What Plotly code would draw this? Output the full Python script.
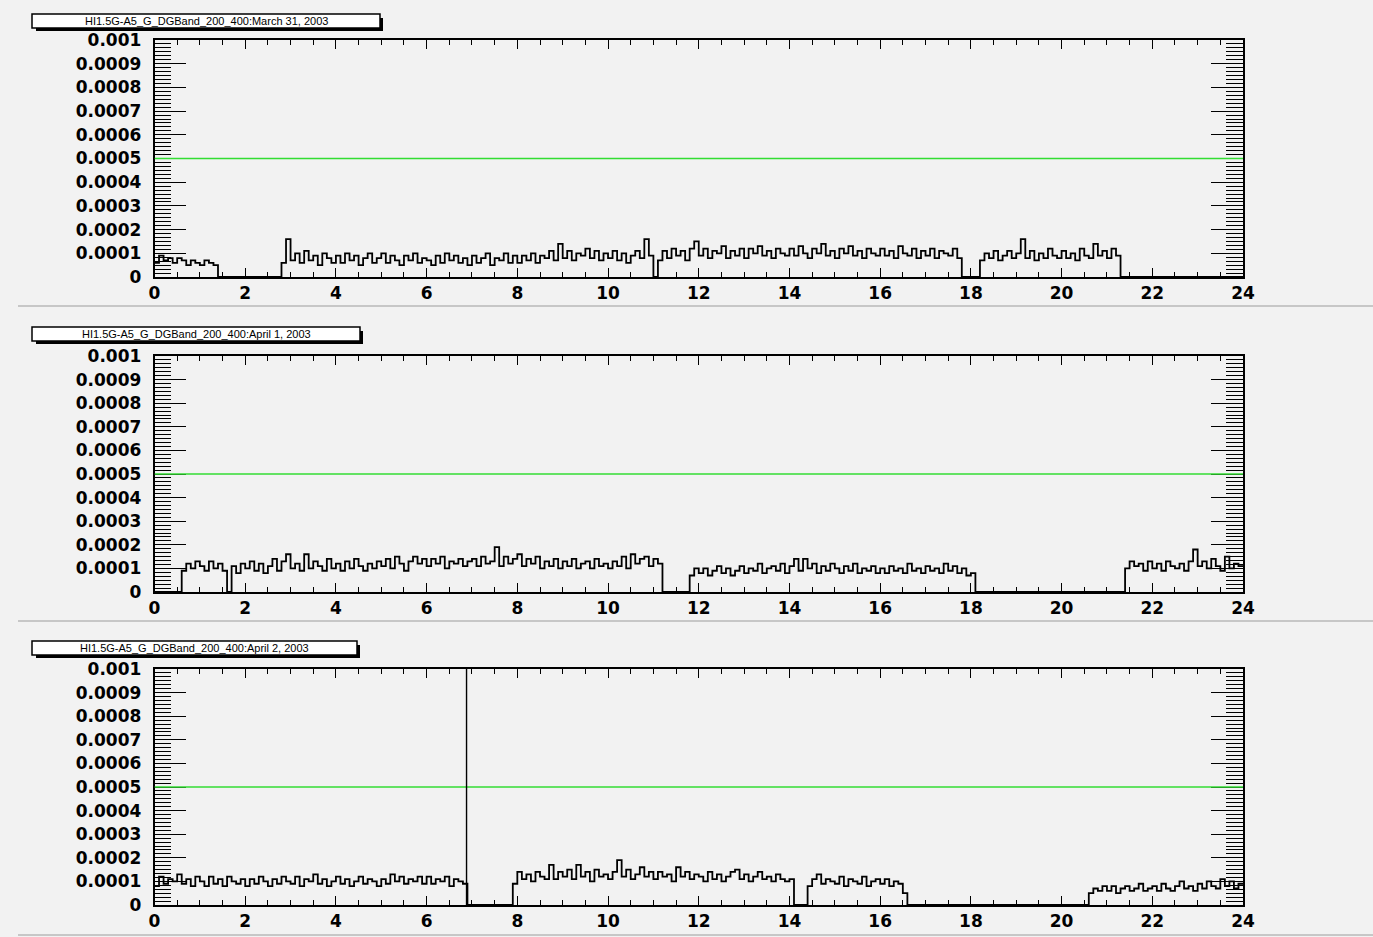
import numpy as np
import plotly.graph_objects as go

# ---------------- data (values in units of 1e-5, 0.1 h bins) ----------------
BIN_WIDTH_H = 0.1
VALUE_UNIT = 1e-5

hour_ticks = [0, 2, 4, 6, 8, 10, 12, 14, 16, 18, 20, 22, 24]
hour_tick_labels = ["0", "2", "4", "6", "8", "10", "12", "14", "16", "18", "20", "22", "24"]
y_tick_values = [0, 0.0001, 0.0002, 0.0003, 0.0004, 0.0005, 0.0006, 0.0007, 0.0008, 0.0009, 0.001]
y_tick_labels = ["0", "0.0001", "0.0002", "0.0003", "0.0004", "0.0005", "0.0006",
                 "0.0007", "0.0008", "0.0009", "0.001"]
threshold = 0.0005

panel_titles = [
    "HI1.5G-A5_G_DGBand_200_400:March 31, 2003",
    "HI1.5G-A5_G_DGBand_200_400:April 1, 2003",
    "HI1.5G-A5_G_DGBand_200_400:April 2, 2003",
]

mar31 = [
    6, 9, 7, 8, 6, 8, 7, 5, 7, 6,
    5, 7, 6, 5, 0, 0, 0, 0, 0, 0,
    0, 0, 0, 0, 0, 0, 0, 0, 6, 16,
    7, 10, 6, 11, 7, 9, 5, 10, 8, 6,
    9, 6, 10, 7, 9, 5, 8, 10, 6, 8,
    10, 6, 9, 7, 5, 9, 7, 10, 6, 8,
    7, 5, 9, 6, 10, 7, 9, 6, 8, 5,
    9, 6, 8, 10, 5, 8, 7, 10, 6, 9,
    6, 9, 7, 10, 6, 9, 8, 11, 7, 14,
    8, 11, 7, 10, 9, 12, 8, 11, 7, 10,
    8, 11, 7, 10, 6, 9, 11, 8, 16, 9,
    0, 7, 11, 8, 12, 9, 11, 7, 12, 15,
    9, 12, 8, 11, 10, 13, 8, 11, 9, 12,
    8, 12, 10, 13, 9, 11, 8, 12, 10, 9,
    12, 9, 13, 10, 8, 12, 10, 14, 9, 11,
    8, 12, 10, 13, 9, 11, 8, 12, 10, 9,
    12, 9, 11, 8, 13, 10, 9, 12, 8, 11,
    9, 12, 8, 11, 10, 9, 12, 8, 0, 0,
    0, 0, 7, 10, 8, 11, 7, 9, 11, 8,
    10, 16, 8, 11, 7, 10, 8, 12, 9, 8,
    11, 8, 10, 7, 12, 9, 8, 14, 9, 11,
    8, 12, 9, 0, 0, 0, 0, 0, 0, 0,
    0, 0, 0, 0, 0, 0, 0, 0, 0, 0,
    0, 0, 0, 0, 0, 0, 0, 0, 0, 0,
]

apr1 = [
    0, 0, 0, 0, 0, 0, 9, 12, 10, 13,
    11, 9, 13, 10, 12, 9, 0, 11, 8, 12,
    10, 13, 9, 12, 8, 11, 14, 9, 13, 16,
    10, 12, 9, 16, 10, 13, 11, 9, 14, 10,
    12, 9, 13, 10, 14, 11, 9, 12, 10, 13,
    11, 14, 10, 15, 12, 9, 13, 15, 12, 14,
    11, 14, 12, 15, 10, 13, 12, 14, 11, 13,
    14, 11, 15, 12, 13, 19, 11, 15, 12, 14,
    16, 11, 14, 12, 15, 10, 13, 11, 14, 10,
    13, 11, 14, 10, 12, 13, 10, 14, 11, 12,
    10, 13, 11, 15, 10, 16, 12, 14, 15, 11,
    14, 12, 0, 0, 0, 0, 0, 0, 7, 10,
    8, 10, 7, 9, 11, 8, 10, 7, 9, 11,
    8, 10, 9, 12, 8, 10, 11, 9, 12, 8,
    11, 14, 9, 14, 10, 12, 8, 11, 9, 12,
    10, 8, 11, 9, 12, 8, 10, 9, 11, 8,
    10, 8, 11, 9, 10, 8, 12, 9, 10, 8,
    11, 9, 10, 8, 12, 9, 11, 8, 10, 7,
    8, 0, 0, 0, 0, 0, 0, 0, 0, 0,
    0, 0, 0, 0, 0, 0, 0, 0, 0, 0,
    0, 0, 0, 0, 0, 0, 0, 0, 0, 0,
    0, 0, 0, 0, 10, 13, 11, 12, 9, 13,
    10, 12, 9, 13, 11, 10, 12, 9, 13, 18,
    11, 13, 10, 14, 11, 9, 15, 10, 12, 11,
]

apr2 = [
    8, 12, 9, 11, 10, 13, 9, 11, 8, 12,
    10, 8, 12, 9, 11, 8, 12, 10, 9, 11,
    8, 11, 9, 12, 10, 8, 11, 9, 12, 10,
    9, 12, 8, 11, 10, 13, 9, 11, 8, 10,
    12, 9, 11, 8, 10, 12, 9, 11, 10, 8,
    11, 9, 13, 10, 12, 9, 11, 10, 12, 9,
    12, 9, 11, 10, 12, 8, 11, 10, 9, 0,
    0, 0, 0, 0, 0, 0, 0, 0, 0, 9,
    14, 11, 13, 10, 14, 12, 11, 17, 11, 14,
    12, 15, 11, 17, 12, 14, 10, 15, 12, 13,
    11, 14, 19, 12, 15, 11, 13, 16, 12, 14,
    11, 14, 12, 13, 10, 16, 12, 14, 11, 13,
    12, 10, 14, 11, 13, 10, 12, 14, 15, 11,
    13, 10, 12, 14, 11, 12, 10, 13, 11, 10,
    11, 0, 0, 0, 8, 11, 13, 9, 11, 10,
    9, 12, 8, 11, 10, 9, 12, 8, 10, 11,
    9, 11, 8, 10, 9, 5, 0, 0, 0, 0,
    0, 0, 0, 0, 0, 0, 0, 0, 0, 0,
    0, 0, 0, 0, 0, 0, 0, 0, 0, 0,
    0, 0, 0, 0, 0, 0, 0, 0, 0, 0,
    0, 0, 0, 0, 0, 0, 5, 7, 6, 8,
    6, 8, 5, 7, 8, 6, 7, 9, 6, 7,
    8, 6, 9, 7, 6, 8, 10, 7, 8, 6,
    9, 7, 10, 8, 7, 11, 8, 10, 7, 9,
]

apr2_spike_hour = [6.88]
apr2_spike_value = [120]

# ---------------- layout geometry (pixels) ----------------
W, H = 1373, 937
PLOT_X = (154.5, 1243)
PANEL_Y = [(40, 277), (356, 592), (669, 905)]
TITLE_BOX = [(32, 14, 380, 28), (32, 327, 360, 341), (32, 641, 357, 655)]
SEPARATOR_Y = [306, 621, 935]
BG = "#f2f2f2"
TICK_FONT = dict(family="DejaVu Sans", size=17, color="black", weight="bold")


def px(x):
    return x / W


def py(y):
    return 1 - y / H


fig = go.Figure()
series = [mar31, apr1, apr2]

for i, vals in enumerate(series):
    n = i + 1
    xa = "x" if n == 1 else f"x{n}"
    ya = "y" if n == 1 else f"y{n}"
    edges = np.arange(len(vals) + 1) * BIN_WIDTH_H
    yv = np.array(vals + [vals[-1]], dtype=float) * VALUE_UNIT
    fig.add_trace(go.Scatter(x=[0, 24], y=[threshold, threshold], mode="lines",
                             line=dict(color="#33dd33", width=1.6), xaxis=xa, yaxis=ya,
                             hoverinfo="skip", showlegend=False))
    fig.add_trace(go.Scatter(x=edges, y=yv, mode="lines", line_shape="hv",
                             line=dict(color="black", width=1.8), xaxis=xa, yaxis=ya,
                             showlegend=False))
    if n == 3:
        for h, v in zip(apr2_spike_hour, apr2_spike_value):
            fig.add_trace(go.Scatter(x=[h, h], y=[0, v * VALUE_UNIT], mode="lines",
                                     line=dict(color="black", width=1.4), xaxis=xa, yaxis=ya,
                                     showlegend=False))

layout = dict(width=W, height=H, margin=dict(l=0, r=0, t=0, b=0, pad=0),
              paper_bgcolor=BG, plot_bgcolor=BG, showlegend=False)

for i in range(3):
    n = i + 1
    xk = "xaxis" if n == 1 else f"xaxis{n}"
    yk = "yaxis" if n == 1 else f"yaxis{n}"
    ya = "y" if n == 1 else f"y{n}"
    xa = "x" if n == 1 else f"x{n}"
    y_top, y_bot = PANEL_Y[i]
    layout[xk] = dict(domain=[px(PLOT_X[0]), px(PLOT_X[1])], anchor=ya, range=[0, 24],
                      tickmode="array", tickvals=hour_ticks, ticktext=hour_tick_labels,
                      ticks="inside", ticklen=9, tickwidth=1, tickcolor="black",
                      minor=dict(tickmode="linear", tick0=0, dtick=0.5, ticklen=5,
                                 ticks="inside", tickcolor="black", tickwidth=1,
                                 showgrid=False),
                      showline=True, linecolor="black", linewidth=1.5, mirror="allticks",
                      showgrid=False, zeroline=False, tickfont=TICK_FONT,
                      ticklabelstandoff=0, automargin=False)
    layout[yk] = dict(domain=[py(y_bot), py(y_top)], anchor=xa, range=[0, 0.001],
                      tickmode="array", tickvals=y_tick_values, ticktext=y_tick_labels,
                      ticks="inside", ticklen=32, tickwidth=1, tickcolor="black",
                      minor=dict(tickmode="linear", tick0=0, dtick=0.0001 / 6, ticklen=17,
                                 ticks="inside", tickcolor="black", tickwidth=1,
                                 showgrid=False),
                      showline=True, linecolor="black", linewidth=1.5, mirror="allticks",
                      showgrid=False, zeroline=False, tickfont=TICK_FONT,
                      ticklabelstandoff=8, automargin=False, layer="below traces")

shapes = []
annotations = []
for i in range(3):
    x0, y0, x1, y1 = TITLE_BOX[i]
    shapes.append(dict(type="rect", xref="paper", yref="paper",
                       x0=px(x0 + 4), x1=px(x1 + 3), y0=py(y1 + 3), y1=py(y0 + 4),
                       fillcolor="black", line=dict(width=0)))
    shapes.append(dict(type="rect", xref="paper", yref="paper",
                       x0=px(x0), x1=px(x1), y0=py(y1), y1=py(y0),
                       fillcolor="white", line=dict(color="black", width=1.5)))
    annotations.append(dict(xref="paper", yref="paper", x=px((x0 + x1) / 2), y=py((y0 + y1) / 2),
                            text=panel_titles[i], showarrow=False, xanchor="center",
                            yanchor="middle",
                            font=dict(family="Liberation Sans", size=11, color="black")))
for ys in SEPARATOR_Y:
    shapes.append(dict(type="line", xref="paper", yref="paper", x0=px(18), x1=1,
                       y0=py(ys), y1=py(ys), line=dict(color="#b8b8b8", width=1.5)))

layout["shapes"] = shapes
layout["annotations"] = annotations
fig.update_layout(**layout)
fig.write_html("out.html",
               post_script="document.body.style.margin='0';document.body.style.overflow='hidden';")
